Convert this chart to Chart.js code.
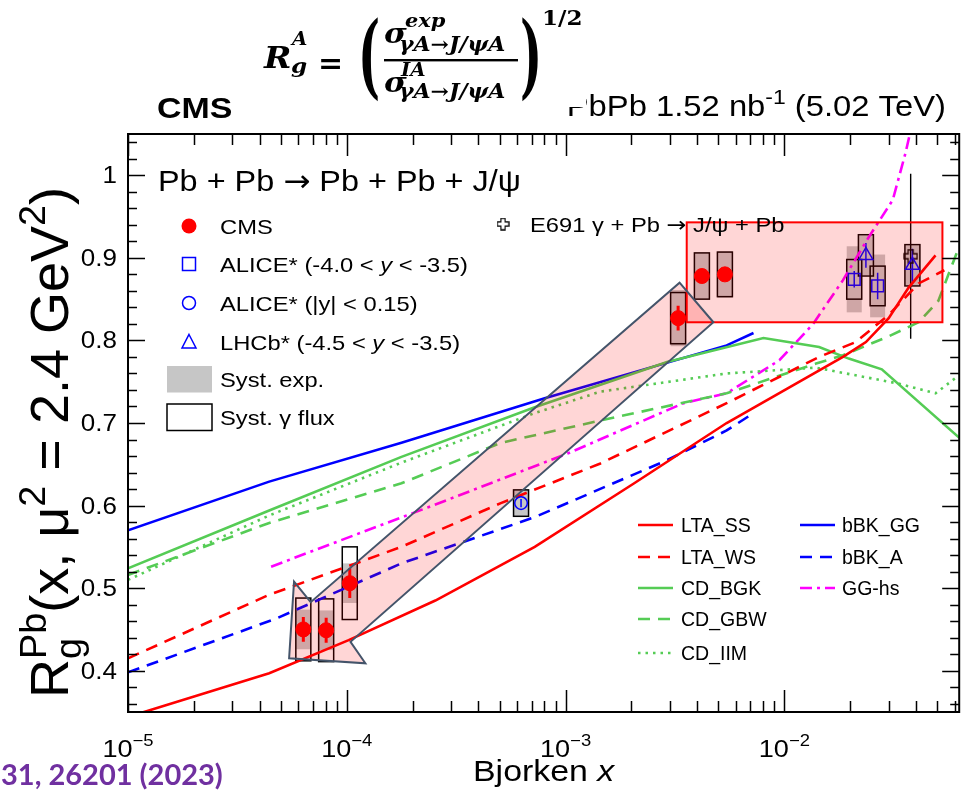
<!DOCTYPE html>
<html><head><meta charset="utf-8">
<script src="https://cdn.jsdelivr.net/npm/chart.js@4.4.1/dist/chart.umd.min.js"></script>
<style>html,body{margin:0;padding:0;background:#fff;}#wrap{position:relative;width:969px;height:791px;}canvas{display:block;}</style>
</head><body><div id="wrap"><canvas id="c" width="969" height="791"></canvas></div>
<script>
// ---------------- DATA ----------------
// Theory curves (Bjorken x, R_g)
const ltaSS_x = [1e-5, 4.42e-5, 1.02e-4, 2.54e-4, 7.23e-4, 2.06e-3, 5.45e-3, 1.854e-2, 2.36e-2, 3.00e-2, 3.70e-2, 4.91e-2];
const ltaSS_y = [0.344, 0.397, 0.437, 0.485, 0.550, 0.627, 0.700, 0.780, 0.798, 0.827, 0.864, 0.903];
const ltaWS_x = [1e-5, 4.42e-5, 1.778e-4, 5.06e-4, 1.443e-3, 5.45e-3, 1.442e-2, 2.12e-2, 3.00e-2, 4.11e-2, 5.39e-2];
const ltaWS_y = [0.415, 0.492, 0.550, 0.603, 0.651, 0.724, 0.780, 0.798, 0.831, 0.869, 0.885];
const cdBGK_x = [1e-5, 4.42e-5, 1.778e-4, 7.23e-4, 2.91e-3, 8.03e-3, 1.442e-2, 1.97e-2, 2.79e-2, 6.31e-2];
const cdBGK_y = [0.524, 0.594, 0.659, 0.719, 0.774, 0.803, 0.792, 0.778, 0.765, 0.682];
const cdGBW_x = [1e-5, 4.42e-5, 1.778e-4, 5.06e-4, 1.443e-3, 5.45e-3, 1.397e-2, 1.854e-2, 3.00e-2, 4.11e-2, 5.06e-2, 5.74e-2, 6.31e-2];
const cdGBW_y = [0.516, 0.579, 0.627, 0.676, 0.703, 0.736, 0.772, 0.782, 0.805, 0.822, 0.848, 0.886, 0.914];
const cdIIM_x = [1e-5, 4.42e-5, 1.778e-4, 7.23e-4, 1.443e-3, 5.45e-3, 1.397e-2, 3.29e-2, 4.91e-2, 6.31e-2];
const cdIIM_y = [0.510, 0.588, 0.652, 0.712, 0.738, 0.760, 0.767, 0.748, 0.736, 0.758];
const bbkGG_x = [1e-5, 4.42e-5, 1.778e-4, 8.03e-4, 5.45e-3, 7.23e-3];
const bbkGG_y = [0.570, 0.629, 0.676, 0.730, 0.794, 0.809];
const bbkA_x = [1e-5, 4.74e-5, 1.778e-4, 7.23e-4, 2.91e-3, 5.45e-3, 7.23e-3];
const bbkA_y = [0.398, 0.463, 0.530, 0.586, 0.655, 0.691, 0.712];
const gghs_x = [4.51e-5, 2.36e-4, 1.021e-3, 3.46e-3, 5.45e-3, 9.49e-3, 1.355e-2, 1.854e-2, 2.43e-2, 3.13e-2, 3.58e-2, 3.90e-2];
const gghs_y = [0.526, 0.598, 0.663, 0.724, 0.736, 0.776, 0.820, 0.873, 0.925, 0.970, 1.027, 1.07];

// Measurements
const cms_x = [6.33e-5, 8.05e-5, 1.032e-4, 3.27e-3, 4.20e-3, 5.35e-3];
const cms_y = [0.450, 0.449, 0.506, 0.827, 0.878, 0.880];
const cms_stat = [0.015, 0.015, 0.018, 0.015, 0.008, 0.008];
const cms_systExp = [0.024, 0.024, 0.024, 0.034, 0.028, 0.028];
const cms_systFlux = [0.038, 0.038, 0.044, 0.031, 0.028, 0.027];
const aliceF_x = [2.087e-2, 2.67e-2];
const aliceF_y = [0.874, 0.866];
const aliceF_stat = [0.010, 0.016];
const aliceF_systExp = [0.040, 0.038];
const aliceF_systFlux = [0.024, 0.024];
const aliceC_x = [6.26e-4];
const aliceC_y = [0.603];
const aliceC_stat = [0.005];
const aliceC_systExp = [0.016];
const aliceC_systFlux = [0.016];
const lhcb_x = [2.36e-2, 3.85e-2];
const lhcb_y = [0.903, 0.891];
const lhcb_stat = [0.015, 0.020];
const lhcb_systExp = [0.024, 0.024];
const lhcb_systFlux = [0.025, 0.025];
const e691_x = [3.78e-2];
const e691_y = [0.902];
const e691_err = [0.100];

// Overlay annotations (data coordinates)
const boxX = [3.58e-3, 5.28e-2];
const boxY = [0.822, 0.943];
const arrowX = [3.32e-3, 4.74e-3, 1.040e-4, 1.216e-4, 5.45e-5, 5.74e-5, 6.84e-5];
const arrowY = [0.870, 0.822, 0.435, 0.409, 0.415, 0.508, 0.483];

// Axes
const xRange = [1e-5, 0.063];
const yRange = [0.35, 1.05];
const xTickExps = [-5, -4, -3, -2];
const yTickVals = [0.4, 0.5, 0.6, 0.7, 0.8, 0.9, 1.0];
const yTickLabels = ['0.4', '0.5', '0.6', '0.7', '0.8', '0.9', '1'];

// Labels
const theoryLabels = ['LTA_SS', 'LTA_WS', 'CD_BGK', 'CD_GBW', 'CD_IIM', 'bBK_GG', 'bBK_A', 'GG-hs'];

// ---------------- STYLE ----------------
const RED = '#ff0000', GREEN = '#55cc55', BLUE = '#0000ff', MAG = '#ff00ff', GRAY = '#c6c6c6';
const FAM = '"Liberation Sans", Arial, sans-serif';
const SERIF = '"DejaVu Serif", serif';
const ARW = '"DejaVu Sans", sans-serif';
const ST = 1.13;
const BOX_HW = 7.5;
const DASH = [12, 8], DOT = [2.5, 5], DASHDOT = [12, 5, 3, 5];

const xy = (xs, ys) => xs.map((v, i) => ({x: v, y: ys[i]}));

function crossImg(size, arm, lw) {
  const c = document.createElement('canvas'); c.width = c.height = size;
  const g = c.getContext('2d'); const s = size / 2, a = arm / 2, r = size / 2 - 1;
  g.beginPath();
  g.moveTo(s - a, s - r); g.lineTo(s + a, s - r); g.lineTo(s + a, s - a); g.lineTo(s + r, s - a);
  g.lineTo(s + r, s + a); g.lineTo(s + a, s + a); g.lineTo(s + a, s + r); g.lineTo(s - a, s + r);
  g.lineTo(s - a, s + a); g.lineTo(s - r, s + a); g.lineTo(s - r, s - a); g.lineTo(s - a, s - a); g.closePath();
  g.lineWidth = lw; g.strokeStyle = '#000'; g.stroke(); return c;
}
const CROSS = crossImg(15, 5, 1.3);

const theory = [
  {x: ltaSS_x, y: ltaSS_y, c: RED, d: []},
  {x: ltaWS_x, y: ltaWS_y, c: RED, d: DASH},
  {x: cdBGK_x, y: cdBGK_y, c: GREEN, d: []},
  {x: cdGBW_x, y: cdGBW_y, c: GREEN, d: DASH},
  {x: cdIIM_x, y: cdIIM_y, c: GREEN, d: DOT},
  {x: bbkGG_x, y: bbkGG_y, c: BLUE, d: []},
  {x: bbkA_x, y: bbkA_y, c: BLUE, d: DASH},
  {x: gghs_x, y: gghs_y, c: MAG, d: DASHDOT}
];

const groups = [
  {x: cms_x, y: cms_y, stat: cms_stat, se: cms_systExp, sf: cms_systFlux, ec: RED, ew: 3},
  {x: aliceF_x, y: aliceF_y, stat: aliceF_stat, se: aliceF_systExp, sf: aliceF_systFlux, ec: BLUE, ew: 1.5},
  {x: aliceC_x, y: aliceC_y, stat: aliceC_stat, se: aliceC_systExp, sf: aliceC_systFlux, ec: BLUE, ew: 1.5},
  {x: lhcb_x, y: lhcb_y, stat: lhcb_stat, se: lhcb_systExp, sf: lhcb_systFlux, ec: BLUE, ew: 1.5}
];

const datasets = [
  {label: 'CMS', data: xy(cms_x, cms_y), pointStyle: 'circle', pointRadius: 7.5, pointBackgroundColor: RED, pointBorderColor: RED, pointBorderWidth: 1},
  {label: 'ALICE* (-4.0 < y < -3.5)', data: xy(aliceF_x, aliceF_y), pointStyle: 'rect', pointRadius: 8.3, pointBackgroundColor: 'rgba(0,0,0,0)', pointBorderColor: BLUE, pointBorderWidth: 1.5},
  {label: 'ALICE* (|y| < 0.15)', data: xy(aliceC_x, aliceC_y), pointStyle: 'circle', pointRadius: 6.3, pointBackgroundColor: 'rgba(0,0,0,0)', pointBorderColor: BLUE, pointBorderWidth: 1.5},
  {label: 'LHCb* (-4.5 < y < -3.5)', data: xy(lhcb_x, lhcb_y), pointStyle: 'triangle', pointRadius: 8, pointBackgroundColor: 'rgba(0,0,0,0)', pointBorderColor: BLUE, pointBorderWidth: 1.5},
  {label: 'E691', data: xy(e691_x, e691_y), pointStyle: CROSS, pointRadius: 7}
].map(d => Object.assign(d, {showLine: false, clip: 0}));
theory.forEach((t, i) => datasets.push({
  label: theoryLabels[i], data: xy(t.x, t.y), showLine: true, borderColor: t.c, borderWidth: 2.6,
  borderDash: t.d, pointRadius: 0, fill: false, tension: 0, clip: 0
}));

// ---------------- TEXT HELPERS ----------------
function fnt(sz, it, bd, fam) { return (it ? 'italic ' : '') + (bd ? 'bold ' : '') + sz + 'px ' + fam; }
function layoutRich(ctx, segs, size, fam) {
  let cx = 0, pS = 0, pE = 0; const items = [];
  for (const s of segs) {
    const sc = s.scale || ((s.sup || s.sub) ? 0.7 : 1);
    const f = fnt(size * sc, s.i, s.b, s.f || fam); ctx.font = f;
    const w = ctx.measureText(s.t).width;
    const x0 = s.stack ? pS : cx + (s.pre || 0);
    const dy = s.sup ? -size * (s.up || 0.42) : s.sub ? size * (s.down || 0.22) : (s.dy || 0);
    items.push({t: s.t, f, x: x0, dy});
    const end = x0 + w + (s.dx || 0);
    cx = s.stack ? Math.max(pE, end) : end; pS = x0; pE = cx;
  }
  return {items, width: cx};
}
function drawRich(ctx, segs, x, y, size, o) {
  o = o || {}; const fam = o.fam || FAM; const st = o.stretch || 1;
  ctx.save(); ctx.translate(x, y);
  if (o.rot) { ctx.rotate(o.rot); ctx.scale(1, st); } else ctx.scale(st, 1);
  const L = layoutRich(ctx, segs, size, fam);
  const off = o.align === 'right' ? -L.width : o.align === 'center' ? -L.width / 2 : 0;
  ctx.fillStyle = o.color || '#000'; ctx.textBaseline = 'alphabetic'; ctx.textAlign = 'left';
  for (const it of L.items) { ctx.font = it.f; ctx.fillText(it.t, off + it.x, it.dy); }
  ctx.restore();
}
function bigParen(ctx, ch, x, top, bottom, size, sx) {
  ctx.save(); ctx.font = 'bold ' + size + 'px ' + SERIF;
  const m = ctx.measureText(ch);
  const h = m.actualBoundingBoxAscent + m.actualBoundingBoxDescent;
  const k = (bottom - top) / h;
  ctx.translate(x, top + m.actualBoundingBoxAscent * k); ctx.scale(sx, k);
  ctx.fillStyle = '#000'; ctx.fillText(ch, 0, 0); ctx.restore();
}

// ---------------- PLUGIN ----------------
const rootPlugin = {
  id: 'rootStyle',
  beforeDraw(chart) {
    const c = chart.ctx; c.save(); c.fillStyle = '#fff'; c.fillRect(0, 0, chart.width, chart.height); c.restore();
  },
  beforeDatasetsDraw(chart) {
    const ctx = chart.ctx, a = chart.chartArea, X = chart.scales.x, Y = chart.scales.y;
    const px = v => X.getPixelForValue(v), py = v => Y.getPixelForValue(v);
    ctx.save(); ctx.beginPath(); ctx.rect(a.left, a.top, a.right - a.left, a.bottom - a.top); ctx.clip();
    for (const g of groups) {
      for (let i = 0; i < g.x.length; i++) {
        const cx = px(g.x[i]); const t = py(g.y[i] + g.se[i]), b = py(g.y[i] - g.se[i]);
        ctx.fillStyle = GRAY; ctx.fillRect(cx - BOX_HW, t, 2 * BOX_HW, b - t);
      }
    }
    for (const g of groups) {
      for (let i = 0; i < g.x.length; i++) {
        const cx = px(g.x[i]); const t = py(g.y[i] + g.sf[i]), b = py(g.y[i] - g.sf[i]);
        ctx.strokeStyle = '#000'; ctx.lineWidth = 1.5; ctx.strokeRect(cx - BOX_HW, t, 2 * BOX_HW, b - t);
      }
    }
    for (let i = 0; i < e691_x.length; i++) {
      const cx = px(e691_x[i]);
      ctx.strokeStyle = '#000'; ctx.lineWidth = 1.4; ctx.beginPath();
      ctx.moveTo(cx, py(e691_y[i] - e691_err[i])); ctx.lineTo(cx, py(e691_y[i] + e691_err[i])); ctx.stroke();
    }
    for (const g of groups) {
      for (let i = 0; i < g.x.length; i++) {
        const cx = px(g.x[i]);
        ctx.strokeStyle = g.ec; ctx.lineWidth = g.ew; ctx.beginPath();
        ctx.moveTo(cx, py(g.y[i] - g.stat[i])); ctx.lineTo(cx, py(g.y[i] + g.stat[i])); ctx.stroke();
      }
    }
    ctx.restore();
  },
  afterDatasetsDraw(chart) {
    const ctx = chart.ctx, a = chart.chartArea, X = chart.scales.x, Y = chart.scales.y;
    const px = v => X.getPixelForValue(v), py = v => Y.getPixelForValue(v);
    ctx.save();
    // overlays
    const bx0 = px(boxX[0]), bx1 = px(boxX[1]), by0 = py(boxY[1]), by1 = py(boxY[0]);
    ctx.fillStyle = 'rgba(255,0,0,0.16)'; ctx.fillRect(bx0, by0, bx1 - bx0, by1 - by0);
    ctx.strokeStyle = RED; ctx.lineWidth = 2; ctx.strokeRect(bx0, by0, bx1 - bx0, by1 - by0);
    ctx.beginPath();
    arrowX.forEach((v, i) => { const X0 = px(v), Y0 = py(arrowY[i]); i ? ctx.lineTo(X0, Y0) : ctx.moveTo(X0, Y0); });
    ctx.closePath(); ctx.fillStyle = 'rgba(255,0,0,0.16)'; ctx.fill();
    ctx.strokeStyle = '#44546a'; ctx.lineWidth = 2; ctx.lineJoin = 'miter'; ctx.stroke();

    // frame and ticks
    ctx.strokeStyle = '#000'; ctx.lineWidth = 1.5;
    ctx.beginPath();
    for (let e = xTickExps[0]; e <= xTickExps[xTickExps.length - 1] + 1; e++) {
      for (let k = 1; k <= 9; k++) {
        const v = k * Math.pow(10, e); if (v < xRange[0] * 0.999 || v > xRange[1]) continue;
        const p = Math.round(px(v)) + 0.5; const L = k === 1 ? 22 : 11;
        ctx.moveTo(p, a.bottom); ctx.lineTo(p, a.bottom - L);
        ctx.moveTo(p, a.top); ctx.lineTo(p, a.top + L);
      }
    }
    for (let j = 0; j <= 35; j++) {
      const v = Math.round((0.36 + 0.02 * j) * 100) / 100; if (v > yRange[1]) break;
      const major = Math.abs(v * 10 - Math.round(v * 10)) < 1e-6;
      const p = Math.round(py(v)) + 0.5; const L = major ? 17 : 9;
      ctx.moveTo(a.left, p); ctx.lineTo(a.left + L, p);
      ctx.moveTo(a.right, p); ctx.lineTo(a.right - L, p);
    }
    ctx.stroke();
    ctx.lineWidth = 2; ctx.strokeRect(a.left, a.top, a.right - a.left, a.bottom - a.top);

    // tick labels
    xTickExps.forEach(e => {
      drawRich(ctx, [{t: '10'}, {t: '\u2212' + Math.abs(e), sup: true, scale: 0.68, up: 0.45}], px(Math.pow(10, e)), 757, 24, {stretch: ST, align: 'center'});
    });
    yTickVals.forEach((v, i) => drawRich(ctx, [{t: yTickLabels[i]}], 117, py(v) + 8, 23, {stretch: ST, align: 'right'}));

    // axis titles
    drawRich(ctx, [{t: 'Bjorken '}, {t: 'x', i: true}], 473, 781, 30, {stretch: ST});
    drawRich(ctx, [{t: 'R'}, {t: 'Pb', sup: true, up: 0.40}, {t: 'g', sub: true, stack: true, down: 0.24}, {t: '(x, \u03bc'}, {t: '2', sup: true}, {t: ' = 2.4 GeV'}, {t: '2', sup: true}, {t: ')'}],
      68, 698, 54, {stretch: 1.0, rot: -Math.PI / 2});

    // header
    drawRich(ctx, [{t: 'CMS', b: true}], 157, 118, 30, {stretch: ST});
    drawRich(ctx, [{t: 'PbPb 1.52 nb'}, {t: '-1', sup: true}, {t: ' (5.02 TeV)'}], 946, 116, 29, {stretch: ST, align: 'right'});

    // process label
    drawRich(ctx, [{t: 'Pb + Pb '}, {t: '\u2192', f: ARW}, {t: ' Pb + Pb + J/\u03c8'}], 158, 191, 30, {stretch: 1.08});

    // left legend
    const LX = 189, TX = 220, rows = [226, 264, 303, 342, 379, 417];
    ctx.fillStyle = RED; ctx.beginPath(); ctx.arc(LX, rows[0], 7.5, 0, 2 * Math.PI); ctx.fill();
    ctx.strokeStyle = BLUE; ctx.lineWidth = 1.5;
    ctx.strokeRect(LX - 6.5, rows[1] - 6.5, 13, 13);
    ctx.beginPath(); ctx.arc(LX, rows[2], 6.5, 0, 2 * Math.PI); ctx.stroke();
    ctx.beginPath(); ctx.moveTo(LX, rows[3] - 7.5); ctx.lineTo(LX + 7, rows[3] + 6); ctx.lineTo(LX - 7, rows[3] + 6); ctx.closePath(); ctx.stroke();
    ctx.fillStyle = GRAY; ctx.fillRect(167, rows[4] - 13, 45, 26.5);
    ctx.strokeStyle = '#000'; ctx.lineWidth = 1.5; ctx.strokeRect(167, rows[5] - 13, 45, 26.5);
    const LS = 21, ldy = 7.5;
    drawRich(ctx, [{t: datasets[0].label}], TX, rows[0] + ldy, LS, {stretch: ST});
    drawRich(ctx, [{t: 'ALICE* (-4.0 < '}, {t: 'y', i: true}, {t: ' < -3.5)'}], TX, rows[1] + ldy, LS, {stretch: ST});
    drawRich(ctx, [{t: 'ALICE* (|y| < 0.15)'}], TX, rows[2] + ldy, LS, {stretch: ST});
    drawRich(ctx, [{t: 'LHCb* (-4.5 < '}, {t: 'y', i: true}, {t: ' < -3.5)'}], TX, rows[3] + ldy, LS, {stretch: ST});
    drawRich(ctx, [{t: 'Syst. exp.'}], TX, rows[4] + ldy, LS, {stretch: ST});
    drawRich(ctx, [{t: 'Syst. \u03b3 flux'}], TX, rows[5] + ldy, LS, {stretch: ST});

    // E691 legend
    ctx.drawImage(CROSS, 503 - 6.5, 224 - 6.5, 13, 13);
    drawRich(ctx, [{t: 'E691 \u03b3 + Pb '}, {t: '\u2192', f: ARW}, {t: ' J/\u03c8 + Pb'}], 530, 232, 21, {stretch: ST});

    // right legend
    const r1 = [525, 557, 588, 619, 653];
    const cols = [{lx: 638, tx: 681, idx: [0, 1, 2, 3, 4]}, {lx: 800, tx: 842, idx: [5, 6, 7]}];
    cols.forEach(col => col.idx.forEach((ti, k) => {
      const t = theory[ti]; const yy = r1[k];
      ctx.save(); ctx.strokeStyle = t.c; ctx.lineWidth = 2.6; ctx.setLineDash(t.d);
      ctx.beginPath(); ctx.moveTo(col.lx, yy); ctx.lineTo(col.lx + 35, yy); ctx.stroke(); ctx.restore();
      drawRich(ctx, [{t: theoryLabels[ti]}], col.tx, yy + 7, 19.5, {stretch: 1.0});
    }));

    // formula overlay (pasted equation)
    ctx.fillStyle = '#fff'; ctx.fillRect(236, 0, 350, 107);
    const FS = 1.1;
    drawRich(ctx, [{t: 'R', i: true, b: true}], 264, 68, 30, {fam: SERIF, stretch: FS});
    drawRich(ctx, [{t: 'A', i: true, b: true}], 292, 45, 18, {fam: SERIF, stretch: FS});
    drawRich(ctx, [{t: 'g', i: true, b: true}], 291, 73, 21, {fam: SERIF, stretch: FS});
    drawRich(ctx, [{t: '=', b: true}], 318, 73, 30, {fam: SERIF, stretch: 1.0});
    bigParen(ctx, '(', 358, 15, 102, 36, 1.3);
    bigParen(ctx, ')', 520, 15, 102, 36, 1.3);
    drawRich(ctx, [{t: '\u03c3', i: true, b: true}], 384, 43, 28, {fam: SERIF, stretch: FS});
    drawRich(ctx, [{t: 'exp', i: true, b: true}], 405, 27, 19, {fam: SERIF, stretch: FS});
    drawRich(ctx, [{t: '\u03b3A\u2192J/\u03c8A', i: true, b: true}], 399, 51, 20, {fam: SERIF, stretch: 1.1});
    ctx.fillStyle = '#000'; ctx.fillRect(384, 59, 134, 2.4);
    drawRich(ctx, [{t: '\u03c3', i: true, b: true}], 384, 92, 28, {fam: SERIF, stretch: FS});
    drawRich(ctx, [{t: 'IA', i: true, b: true}], 401, 76, 18, {fam: SERIF, stretch: FS});
    drawRich(ctx, [{t: '\u03b3A\u2192J/\u03c8A', i: true, b: true}], 399, 98, 20, {fam: SERIF, stretch: 1.1});
    drawRich(ctx, [{t: '1/2', b: true}], 542, 25, 21, {fam: SERIF, stretch: FS});

    // citation fragment
    drawRich(ctx, [{t: '31, 26201 (2023)', b: true}], 1, 785, 29, {fam: 'Lato, "Open Sans", sans-serif', color: '#7030a0'});
    ctx.restore();
  }
};

new Chart(document.getElementById('c'), {
  type: 'scatter',
  data: {datasets},
  options: {
    responsive: false, animation: false, devicePixelRatio: 1, events: [],
    layout: {padding: {left: 128, right: 969 - 964, top: 134, bottom: 791 - 712}},
    scales: {
      x: {type: 'logarithmic', min: xRange[0], max: xRange[1], display: false},
      y: {type: 'linear', min: yRange[0], max: yRange[1], display: false}
    },
    plugins: {legend: {display: false}, tooltip: {enabled: false}}
  },
  plugins: [rootPlugin]
});
</script></body></html>
